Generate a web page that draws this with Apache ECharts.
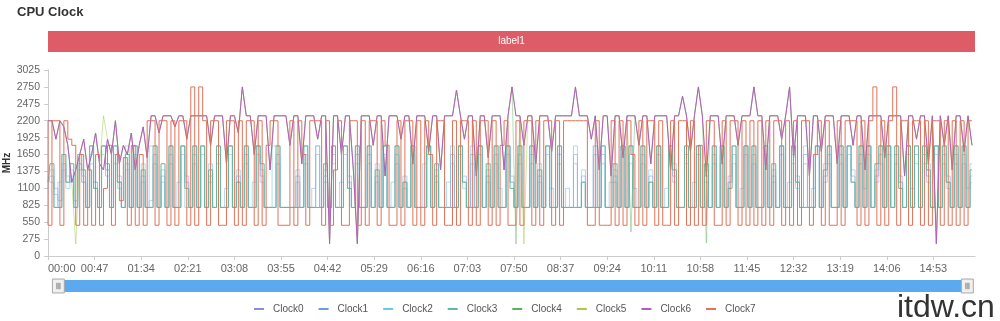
<!DOCTYPE html>
<html>
<head>
<meta charset="utf-8">
<style>html,body{margin:0;padding:0;background:#fff;}#chart{width:1000px;height:321px;}</style>
<script src="https://cdn.jsdelivr.net/npm/echarts@6/dist/echarts.min.js"></script>
</head>
<body>
<div id="chart"></div>
<script>
// sampling step (seconds) of every series
const STEP = 4;
const seriesNames = ['Clock0','Clock1','Clock2','Clock3','Clock4','Clock5','Clock6','Clock7'];
const xTickSeconds = [0,47,94,141,188,235,282,329,376,423,470,517,564,611,658,705,752,799,846,893];
const yTicks = [0,275,550,825,1100,1375,1650,1925,2200,2475,2750,3025];
const bandLabels = ['label1'];

const clock0 = [
1300,1200,1000,900,1400,1300,1200,900,1500,1300,
790,1500,1200,790,1650,1400,790,1500,1300,790,
1400,790,1650,790,1200,790,900,1500,790,1200,
790,1500,790,790,1650,1300,790,1500,790,1650,
790,1200,790,1500,790,790,1650,790,1200,790,
1500,790,790,1650,1200,790,790,790,1500,790,
790,790,790,1200,790,1500,790,790,1650,790,
1200,790,1500,790,790,1650,1300,790,1500,790,
790,1500,790,1200,790,1650,790,790,1500,790,
1200,790,1500,790,790,790,1650,790,1200,790,
790,790,1500,790,1650,1200,790,1500,790,1650,
790,1200,790,1500,790,790,1650,1300,790,1500,
790,790,1500,790,1200,790,1650,790,790,1500,
790,790,790,1500,790,1200,790,790,1650,790,
1500,790,790,1200,790,1650,790,1500,790,790,
1500,790,1200,790,1650,790,790,1500,1200,790,
790,1500,790,790,1650,790,1200,790,1500,790,
1500,790,1300,1500,790,790,1650,790,1500,790,
790,1500,790,1200,790,1650,790,790,1500,1200,
790,1500,790,790,1650,790,1200,1500,790,790,
1500,790,1650,1200,790,1500,790,1650,790,1200,
1500,790,1650,790,1500,1300,790,1650,790,1500,
790,1500,1200,790,1650,790,1500,1200,790,1500,
790,1500,790,1200];

const clock1 = [
1200,1300,1100,790,1500,1200,1300,790,1400,1200,
790,1650,1100,790,1790,1300,790,1650,1200,790,
1500,790,1790,790,1300,790,790,1650,790,1300,
790,1650,790,790,1790,1200,790,1650,790,1790,
790,1300,790,1650,790,790,1790,790,1300,790,
1650,790,790,1790,1300,790,790,790,1650,790,
790,790,790,1300,790,1650,790,790,1790,790,
1300,790,1650,790,790,1790,1200,790,1650,790,
790,1650,790,1300,790,1790,790,790,1650,790,
1300,790,1650,790,790,790,1790,790,1300,790,
790,790,1650,790,1790,1300,790,1650,790,1790,
790,1300,790,1650,790,790,1790,1200,790,1650,
790,790,1650,790,1300,790,1790,790,790,1650,
790,790,790,1650,790,1300,790,790,1790,790,
1650,790,790,1300,790,1790,790,1650,790,790,
1650,790,1300,790,1790,790,790,1650,1300,790,
790,1650,790,790,1790,790,1300,790,1650,790,
1650,790,1200,1650,790,790,1790,790,1650,790,
790,1650,790,1300,790,1790,790,790,1650,1300,
790,1650,790,790,1790,790,1300,1650,790,790,
1650,790,1790,1300,790,1650,790,1790,790,1300,
1650,790,1790,790,1650,1200,790,1790,790,1650,
790,1650,1300,790,1790,790,1650,1300,790,1650,
790,1650,790,1300];

const clock2 = [
1100,1400,790,1200,1650,1100,1400,790,1500,1200,
790,1790,1200,790,1790,1400,790,1790,1100,790,
1790,790,1650,790,1500,790,1790,1790,790,1400,
790,1790,790,1200,1790,790,790,1790,790,1790,
790,1500,790,1790,790,1100,1790,790,1400,790,
1790,790,1200,1790,1400,790,790,1790,1790,790,
790,790,790,1400,790,1790,790,1100,1790,790,
1400,790,1790,790,1200,1790,1100,790,1790,790,
790,1790,790,1500,790,1790,790,1200,1790,790,
1100,790,1790,790,790,1500,1790,790,1400,790,
790,1200,1790,790,1790,1100,790,1790,790,1790,
790,1400,790,1790,1100,790,1790,1200,790,1790,
790,790,1790,790,1500,790,1790,1100,790,1790,
790,1100,790,1790,790,1400,790,790,1790,790,
1790,790,1200,1400,790,1790,790,1790,1100,790,
1790,790,1400,790,1790,790,1100,1790,1500,790,
790,1790,790,1200,1790,790,1400,790,1790,790,
1790,790,1200,1790,790,1100,1790,790,1790,790,
790,1790,790,1400,790,1790,790,1200,1790,1100,
790,1790,790,1100,1790,790,1500,1790,790,790,
1790,790,1790,1400,790,1790,1100,1790,790,1400,
1790,790,1790,790,1790,1200,790,1790,1100,1790,
790,1790,1500,790,1790,790,1790,1100,790,1790,
790,1790,1100,1500];

const clock3 = [
1200,1500,790,790,1650,1200,1500,790,1650,1400,
790,1790,1100,790,1790,1500,790,1790,1200,790,
1650,790,1790,790,1400,790,790,1790,790,1500,
790,1790,790,790,1790,1100,790,1790,790,1790,
790,1400,790,1790,790,790,1790,790,1200,790,
1790,790,790,1790,1500,790,790,790,1790,790,
790,790,790,790,790,1790,790,790,790,790,
1500,790,1790,790,790,1790,1100,790,1790,790,
790,1790,790,1400,790,1790,790,790,1790,790,
1200,790,1790,790,790,790,1790,790,1500,790,
790,790,790,790,1790,1200,790,790,790,1790,
790,1500,790,1790,790,790,1790,1100,790,1790,
790,790,1790,790,1400,790,1790,790,790,1790,
790,790,790,790,790,1200,790,790,790,790,
1790,790,790,1500,790,1790,790,1790,790,790,
1790,790,1200,790,1790,790,790,1790,1400,790,
790,1790,790,790,1790,790,1500,790,1790,790,
1790,790,1100,1790,790,790,1790,790,1790,790,
790,1790,790,1500,790,1790,790,790,1790,1200,
790,790,790,790,1790,790,1400,1790,790,790,
1790,790,1790,1200,790,1790,790,1790,790,1500,
1790,790,1790,790,1790,1100,790,1790,790,1790,
790,1790,1400,790,1790,790,1790,1200,790,1790,
790,1790,790,1400];

const clock4 = [
2200,2200,1900,2200,2100,1800,1200,1400,1650,1900,
1400,1650,2000,1500,1400,1900,1650,2200,1500,1800,
1650,2000,1400,1800,2100,1600,2280,2280,2000,2280,
2280,2280,2100,2280,2280,1900,2280,2280,2280,2280,
2280,1800,2280,2280,2280,1500,2280,2280,2000,2750,
2280,2280,1650,2280,2280,2280,1400,2280,2280,2280,
2280,1800,2280,2280,1500,2280,2280,2280,1900,2280,
2280,200,2280,2280,1650,2280,2280,1400,200,2280,
2280,2280,1800,2280,2280,1300,2280,2280,2280,1900,
2280,2280,1500,2280,2280,2280,1700,2280,2280,1400,
2280,2280,2280,2700,2280,1900,2280,2280,1300,2280,
2280,1600,2280,2280,2280,1400,2280,2750,195,2280,
1800,2280,2280,1500,2280,2280,2280,1700,2280,2280,
2280,2280,2280,2750,2280,2280,2280,1900,2280,1400,
2280,2280,1300,2280,2280,1600,2280,390,2280,1800,
2280,2280,1500,2280,2280,2280,2280,1400,2280,2280,
2600,2280,1700,2280,2750,2280,210,2280,2280,2280,
1500,2280,2280,2280,1800,2280,2280,2280,2750,2280,
2280,1400,2280,2280,2280,1900,2280,2750,1600,2280,
2280,2280,1300,2280,2280,1700,2280,2280,2280,1500,
2280,2280,2280,1800,2280,2280,1400,2280,2280,2280,
2280,1600,2280,2280,2280,2280,1300,2280,2280,1900,
2280,2280,1500,2280,200,2280,1800,2280,1400,2280,
2280,1700,2280,1800];

const clock5 = [
2200,2200,1900,2200,2100,1800,1200,195,1650,1900,
1400,1650,2000,1500,2280,1900,1650,2200,1500,1800,
1650,2000,1400,1800,2100,1600,2280,2280,2000,2280,
2280,2280,2100,2280,2280,1900,2280,2280,2280,2280,
2280,1800,2280,2280,2280,1500,2280,2280,2000,2750,
2280,2280,1650,2280,2280,2280,1400,2280,2280,2280,
2280,1800,2280,2280,1500,2280,2280,2280,1900,2280,
2280,200,2280,2280,1650,2280,2280,1400,200,2280,
2280,2280,1800,2280,2280,1300,2280,2280,2280,1900,
2280,2280,1500,2280,2280,2280,1700,2280,2280,1400,
2280,2280,2280,2700,2280,1900,2280,2280,1300,2280,
2280,1600,2280,2280,2280,1400,2280,2750,2280,2280,
195,2280,2280,1500,2280,2280,2280,1700,2280,2280,
2280,2280,2280,2750,2280,2280,2280,1900,2280,1400,
2280,2280,1300,2280,2280,1600,2280,2280,2280,1800,
2280,2280,1500,2280,2280,2280,2280,1400,2280,2280,
2600,2280,1700,2280,2750,2280,1300,2280,2280,2280,
1500,2280,2280,2280,1800,2280,2280,2280,2750,2280,
2280,1400,2280,2280,2280,1900,2280,2750,1600,2280,
2280,2280,1300,2280,2280,1700,2280,2280,2280,1500,
2280,2280,2280,1800,2280,2280,1400,2280,2280,2280,
2280,1600,2280,2280,2280,2280,1300,2280,2280,1900,
2280,2280,1500,2280,200,2280,1800,2280,1400,2280,
2280,1700,2280,1800];

const clock6 = [
2200,2200,1900,2200,2100,1800,1200,1400,1650,1900,
1400,1650,2000,1500,1400,1900,1650,2200,1500,1800,
1650,2000,1400,1800,2100,1600,2280,2280,2000,2280,
2280,2280,2100,2280,2280,1900,2280,2280,2280,2280,
2280,1800,2280,2280,2280,1500,2280,2280,2000,2750,
2280,2280,1650,2280,2280,2280,1400,2280,2280,2280,
2280,1800,2280,2280,1500,2280,2280,2280,1900,2280,
2280,200,2280,2280,1650,2280,2280,1400,200,2280,
2280,2280,1800,2280,2280,1300,2280,2280,2280,1900,
2280,2280,1500,2280,2280,2280,1700,2280,2280,1400,
2280,2280,2280,2700,2280,1900,2280,2280,1300,2280,
2280,1600,2280,2280,2280,1400,2280,2750,2280,2280,
1800,2280,2280,1500,2280,2280,2280,1700,2280,2280,
2280,2280,2280,2750,2280,2280,2280,1900,2280,1400,
2280,2280,1300,2280,2280,1600,2280,2280,2280,1800,
2280,2280,1500,2280,2280,2280,2280,1400,2280,2280,
2600,2280,1700,2280,2750,2280,1300,2280,2280,2280,
1500,2280,2280,2280,1800,2280,2280,2280,2750,2280,
2280,1400,2280,2280,2280,1900,2280,2750,1600,2280,
2280,2280,1300,2280,2280,1700,2280,2280,2280,1500,
2280,2280,2280,1800,2280,2280,1400,2280,2280,2280,
2280,1600,2280,2280,2280,2280,1300,2280,2280,1900,
2280,2280,1500,2280,200,2280,1800,2280,1400,2280,
2280,1700,2280,1800];

const clock7 = [
2200,500,2200,2200,500,2200,1900,1800,500,1650,
500,1400,500,1650,500,1100,1800,500,1650,900,
1600,500,1800,500,1650,500,2200,2200,500,2200,
2200,500,2200,500,2200,2200,500,2750,500,2750,
2200,500,2200,2200,500,500,2200,2200,500,2200,
500,2200,2200,500,2200,500,1800,2200,2200,500,
500,500,2200,500,2200,1650,500,2200,2200,2200,
500,2200,500,1400,2200,500,500,2200,2200,500,
2200,500,2200,2200,500,2200,1800,500,500,2200,
500,2200,2200,500,2200,500,2200,1650,500,2200,
2200,500,500,2200,500,2200,2200,500,2200,500,
2200,2200,500,2200,500,1800,2200,500,500,2200,
500,2200,2200,500,2200,500,2200,2200,500,2200,
500,2200,2200,2200,2200,2200,2200,500,500,2200,
500,500,500,2200,500,2200,500,2200,1650,500,
2200,500,2200,2200,500,2200,500,500,2200,500,
2200,2200,500,2200,500,1800,500,2200,2200,500,
500,2200,500,2200,2200,500,2200,500,2200,500,
2200,500,2200,500,2200,2200,500,2200,500,2200,
500,2200,2200,500,1650,2200,500,2200,500,500,
2200,500,2200,2200,2200,500,2200,500,2200,2750,
500,2200,500,2200,2750,500,2200,2200,500,2200,
2200,500,2200,500,2200,2200,500,2200,500,2200,
500,2200,500,2200];

const seriesValues = [clock0, clock1, clock2, clock3, clock4, clock5, clock6, clock7];
const seriesColors = ['#8a8fd6','#6b9be6','#74c6e6','#62b8a0','#5db35d','#a3cc4a','#b35cbf','#e0735a'];
// step drawing for the square-wave series, plain lines for the big-core ones
const seriesStep = ['middle','middle','middle','middle',false,false,false,'start'];
const seriesLineOpacity = [0.45,0.5,0.6,1,0.45,0.5,1,1];

function fmt(v){
  const m = Math.floor(v/60), s = Math.round(v%60);
  return String(m).padStart(2,'0') + ':' + String(s).padStart(2,'0');
}

const FONT = 'Liberation Sans, Helvetica, Arial, sans-serif';
const chart = echarts.init(document.getElementById('chart'), null, {renderer:'canvas'});

const lineSeries = seriesNames.map((name, k) => ({
  name: name,
  type: 'line',
  xAxisIndex: 0,
  yAxisIndex: 0,
  symbol: 'none',
  showSymbol: false,
  step: seriesStep[k],
  animation: false,
  lineStyle: {width: 1, color: seriesColors[k], opacity: seriesLineOpacity[k]},
  itemStyle: {color: seriesColors[k]},
  data: seriesValues[k].map((v, i) => [i*STEP, v])
}));

chart.setOption({
  animation: false,
  textStyle: {fontFamily: FONT},
  title: {
    text: 'CPU Clock', left: 12, top: 1,
    textStyle: {fontSize: 13, fontWeight: 'bold', color: '#333', fontFamily: FONT}
  },
  legend: {
    data: seriesNames,
    left: 249, top: 299,
    icon: 'rect',
    itemWidth: 10, itemHeight: 2, itemGap: 15,
    textStyle: {fontSize: 10, color: '#555', padding: [0,0,0,4], fontFamily: FONT}
  },
  grid: [
    {left: 48, right: 25, top: 70, bottom: 65, containLabel: false, outerBoundsMode: 'none'},
    {left: 48, right: 25, top: 31, height: 21, containLabel: false, outerBoundsMode: 'none'}
  ],
  xAxis: [
    {
      type: 'value', gridIndex: 0, min: 0, max: 935, interval: 47,
      axisLine: {show: true, lineStyle: {color: '#ccc'}},
      axisTick: {show: true, length: 4, lineStyle: {color: '#ccc'}, customValues: xTickSeconds},
      splitLine: {show: false},
      axisLabel: {
        color: '#666', fontSize: 11, margin: 7, fontFamily: FONT,
        alignMinLabel: 'left',
        customValues: xTickSeconds,
        formatter: v => fmt(v)
      }
    },
    {type: 'value', gridIndex: 1, min: 0, max: 935, show: false}
  ],
  yAxis: [
    {
      type: 'value', gridIndex: 0, min: 0, max: 3025, interval: 275,
      name: 'MHz', nameLocation: 'middle', nameGap: 36, nameRotate: 90,
      nameMoveOverlap: false,
      nameTextStyle: {fontSize: 10, fontWeight: 'bold', color: '#333', fontFamily: FONT},
      axisLine: {show: true, lineStyle: {color: '#ccc'}},
      axisTick: {show: true, length: 4, lineStyle: {color: '#ccc'}},
      splitLine: {show: false},
      axisLabel: {color: '#666', fontSize: 10.5, margin: 8, fontFamily: FONT, formatter: v => String(v)}
    },
    {type: 'category', gridIndex: 1, data: bandLabels, show: false}
  ],
  dataZoom: [{
    type: 'slider', xAxisIndex: 0, start: 0, end: 100,
    left: 56, right: 33, top: 280, height: 12,
    showDetail: false, showDataShadow: false, brushSelect: false,
    moveHandleSize: 0,
    borderColor: 'transparent',
    backgroundColor: 'transparent',
    fillerColor: '#5ba9ef',
    handleIcon: 'path://M0,0H12V14H0Z M4.2,4H4.8V10H4.2Z M5.7,4H6.3V10H5.7Z M7.2,4H7.8V10H7.2Z',
    handleSize: '116%',
    handleStyle: {color: '#f0f0f0', borderColor: '#aaa', borderWidth: 1},
    emphasis: {handleStyle: {color: '#f0f0f0', borderColor: '#aaa'}}
  }],
  graphic: [{
    type: 'text', left: 897, top: 292,
    style: {text: 'itdw.cn', fontSize: 32, fill: '#333', fontFamily: FONT}
  }],
  series: lineSeries.concat([{
    name: 'band', type: 'bar', xAxisIndex: 1, yAxisIndex: 1,
    barWidth: '100%', animation: false, silent: true,
    itemStyle: {color: '#dd5c66'},
    label: {show: true, position: 'inside', formatter: '{b}', color: '#fff', fontSize: 10, fontFamily: FONT},
    data: [935]
  }])
});
</script>
</body>
</html>
